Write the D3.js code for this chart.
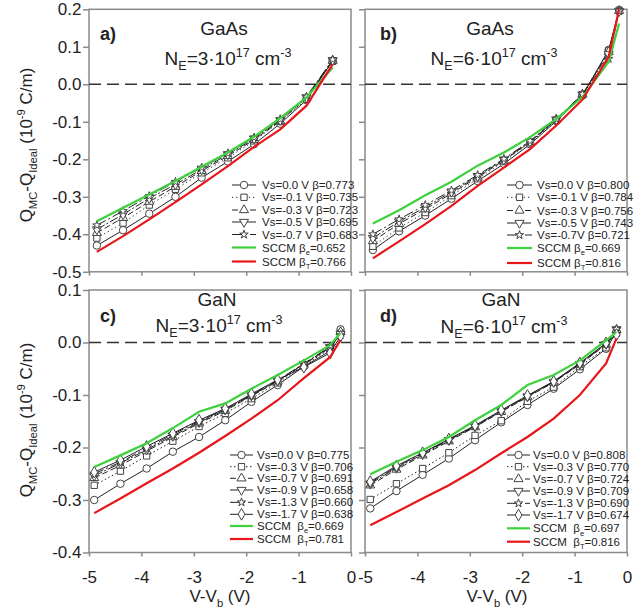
<!DOCTYPE html>
<html>
<head>
<meta charset="utf-8">
<script src="https://cdn.jsdelivr.net/npm/d3@7"></script>
<style>
  body { margin: 0; background: #fff; }
  text { font-family: "Liberation Sans", Arial, sans-serif; fill: #222; }
</style>
</head>
<body>
<div id="chart"></div>
<script>
// x positions (V - Vb)
const xGaAs3 = [-4.85, -4.35, -3.85, -3.35, -2.85, -2.35, -1.85, -1.35, -0.85, -0.35]
const xGaAs6 = [-4.85, -4.35, -3.85, -3.35, -2.85, -2.35, -1.85, -1.35, -0.85, -0.35, -0.15]
const xGaN = [-4.9, -4.4, -3.9, -3.4, -2.9, -2.4, -1.9, -1.4, -0.9, -0.4, -0.2]

// a) GaAs, NE = 3e17
const aVs00 = [-0.430, -0.389, -0.345, -0.300, -0.249, -0.206, -0.160, -0.105, -0.042, 0.063]
const aVs01 = [-0.410, -0.370, -0.322, -0.280, -0.236, -0.196, -0.151, -0.099, -0.040, 0.061]
const aVs03 = [-0.396, -0.356, -0.313, -0.273, -0.231, -0.191, -0.148, -0.098, -0.037, 0.063]
const aVs05 = [-0.387, -0.347, -0.304, -0.267, -0.227, -0.187, -0.145, -0.096, -0.035, 0.064]
const aVs07 = [-0.376, -0.338, -0.298, -0.260, -0.222, -0.184, -0.142, -0.093, -0.033, 0.066]
const aSccmE = [-0.365, -0.329, -0.294, -0.258, -0.220, -0.182, -0.140, -0.090, -0.035, 0.045]
const aSccmT = [-0.447, -0.405, -0.360, -0.314, -0.267, -0.218, -0.167, -0.120, -0.057, 0.054]

// b) GaAs, NE = 6e17
const bVs00 = [-0.442, -0.392, -0.350, -0.305, -0.258, -0.212, -0.160, -0.098, -0.030, 0.092, 0.198]
const bVs01 = [-0.432, -0.383, -0.342, -0.297, -0.252, -0.206, -0.156, -0.096, -0.028, 0.089, 0.197]
const bVs03 = [-0.418, -0.372, -0.333, -0.291, -0.248, -0.203, -0.154, -0.094, -0.027, 0.086, 0.196]
const bVs05 = [-0.410, -0.366, -0.328, -0.287, -0.245, -0.201, -0.153, -0.094, -0.027, 0.080, 0.195]
const bVs07 = [-0.400, -0.360, -0.322, -0.283, -0.242, -0.199, -0.151, -0.093, -0.026, 0.068, 0.195]
const bSccmE = [-0.371, -0.336, -0.296, -0.260, -0.217, -0.182, -0.141, -0.092, -0.034, 0.060, 0.162]
const bSccmT = [-0.464, -0.419, -0.373, -0.324, -0.271, -0.222, -0.173, -0.110, -0.041, 0.073, 0.200]

// c) GaN, NE = 3e17
const cVs00 = [-0.300, -0.269, -0.240, -0.208, -0.180, -0.148, -0.113, -0.081, -0.046, -0.016, 0.025]
const cVs03 = [-0.272, -0.245, -0.216, -0.188, -0.160, -0.135, -0.107, -0.077, -0.044, -0.012, 0.018]
const cVs07 = [-0.258, -0.234, -0.207, -0.180, -0.154, -0.130, -0.102, -0.074, -0.042, -0.010, 0.020]
const cVs09 = [-0.254, -0.230, -0.204, -0.178, -0.152, -0.128, -0.101, -0.073, -0.041, -0.009, 0.016]
const cVs13 = [-0.250, -0.228, -0.201, -0.175, -0.150, -0.127, -0.100, -0.072, -0.040, -0.008, 0.014]
const cVs17 = [-0.247, -0.224, -0.198, -0.173, -0.148, -0.126, -0.098, -0.071, -0.047, -0.020, 0.012]
const cSccmE = [-0.237, -0.215, -0.192, -0.163, -0.132, -0.116, -0.088, -0.062, -0.034, -0.005, 0.018]
const cSccmT = [-0.325, -0.297, -0.268, -0.240, -0.210, -0.178, -0.145, -0.110, -0.068, -0.028, 0.005]

// d) GaN, NE = 6e17
const dVs00 = [-0.316, -0.283, -0.252, -0.221, -0.186, -0.152, -0.119, -0.088, -0.051, -0.012, 0.020]
const dVs03 = [-0.299, -0.269, -0.240, -0.210, -0.177, -0.149, -0.112, -0.085, -0.046, -0.010, 0.018]
const dVs07 = [-0.272, -0.242, -0.215, -0.188, -0.161, -0.132, -0.104, -0.076, -0.042, -0.004, 0.024]
const dVs09 = [-0.269, -0.239, -0.213, -0.186, -0.160, -0.131, -0.103, -0.075, -0.041, -0.003, 0.025]
const dVs13 = [-0.267, -0.237, -0.211, -0.185, -0.159, -0.130, -0.102, -0.075, -0.040, -0.002, 0.026]
const dVs17 = [-0.265, -0.235, -0.210, -0.184, -0.158, -0.129, -0.101, -0.074, -0.039, -0.001, 0.015]
const dSccmE = [-0.251, -0.227, -0.205, -0.180, -0.148, -0.119, -0.081, -0.062, -0.034, 0.004, 0.020]
const dSccmT = [-0.348, -0.323, -0.297, -0.272, -0.243, -0.211, -0.180, -0.145, -0.100, -0.040, 0.008]

// legend texts
const aLabels = ['Vs=0.0 V β=0.773', 'Vs=-0.1 V β=0.735', 'Vs=-0.3 V β=0.723', 'Vs=-0.5 V β=0.695', 'Vs=-0.7 V β=0.683']
const bLabels = ['Vs=0.0 V β=0.800', 'Vs=-0.1 V β=0.784', 'Vs=-0.3 V β=0.756', 'Vs=-0.5 V β=0.743', 'Vs=-0.7V β=0.721']
const cLabels = ['Vs=0.0 V β=0.775', 'Vs=-0.3 V β=0.706', 'Vs=-0.7 V β=0.691', 'Vs=-0.9 V β=0.658', 'Vs=-1.3 V β=0.660', 'Vs=-1.7 V β=0.638']
const dLabels = ['Vs=0.0 V β=0.808', 'Vs=-0.3 V β=0.770', 'Vs=-0.7 V β=0.724', 'Vs=-0.9 V β=0.709', 'Vs=-1.3 V β=0.690', 'Vs=-1.7 V β=0.674']
const aSccm = ['0.652', '0.766']
const bSccm = ['0.669', '0.816']
const cSccm = ['0.669', '0.781']
const dSccm = ['0.697', '0.816']

// tick labels
const xTicks = [-5, -4, -3, -2, -1, 0]
const topTicks = [0.2, 0.1, 0.0, -0.1, -0.2, -0.3, -0.4, -0.5]
const bottomTicks = [0.1, 0.0, -0.1, -0.2, -0.3, -0.4]

const width = 641, height = 613
const pw = 262, ph = 262.5
const axisGray = '#8a8a8a'
const font = '"Liberation Sans", Arial, sans-serif'

const svg = d3.select('#chart').append('svg')
    .attr('width', width)
    .attr('height', height)

// marker shapes, one per series slot
const shapes = [
    { type: d3.symbolCircle, size: 44, rot: 0 },
    { type: d3.symbolSquare, size: 40, rot: 0 },
    { type: d3.symbolTriangle, size: 36, rot: 0 },
    { type: d3.symbolTriangle, size: 36, rot: 180 },
    { type: d3.symbolStar, size: 22, rot: 0 },
    { type: d3.symbolDiamond, size: 40, rot: 0 }
]
const dashesGaAs = [null, '1.2,3', '6,3', '9,2,2,2', '10,3,2,3']
const dashesGaN = [null, '1.5,2.5', '6,3', '9,2,2,2', '10,3,2,3', null]

// text with sub / superscripts: parts = [[str, -1|0|1], ...]
function rich(sel, parts, fs) {
    let cur = 0
    parts.forEach(([s, k]) => {
        const off = k > 0 ? -0.4 * fs : k < 0 ? 0.28 * fs : 0
        sel.append('tspan')
            .attr('dy', off - cur)
            .attr('font-size', k ? fs * 0.66 : fs)
            .text(s)
        cur = off
    })
}

const panels = [
    {
        left: 89, top: 9.3, yDom: [-0.5, 0.2], yTicks: topTicks, xs: xGaAs3, showY: true, showX: false,
        series: [aVs00, aVs01, aVs03, aVs05, aVs07], dashes: dashesGaAs, labels: aLabels,
        sccmE: aSccmE, sccmT: aSccmT, sccm: aSccm, sccmGap: ' ',
        tag: 'a)', tagPos: [100, 40], mat: 'GaAs', matPos: [224, 35], ne: '3', nePos: [228, 65],
        leg: { x0: 232, x1: 256, tx: 262, ys: [185, 197.3, 210, 222, 234.5, 247.5, 261.5] }
    },
    {
        left: 365, top: 9.3, yDom: [-0.5, 0.2], yTicks: topTicks, xs: xGaAs6, showY: false, showX: false,
        series: [bVs00, bVs01, bVs03, bVs05, bVs07], dashes: dashesGaAs, labels: bLabels,
        sccmE: bSccmE, sccmT: bSccmT, sccm: bSccm, sccmGap: ' ',
        tag: 'b)', tagPos: [380, 40], mat: 'GaAs', matPos: [490, 35], ne: '6', nePos: [494, 65],
        leg: { x0: 507, x1: 532, tx: 537, ys: [185, 197.3, 210.5, 223, 235, 248, 263] }
    },
    {
        left: 89, top: 290, yDom: [-0.4, 0.1], yTicks: bottomTicks, xs: xGaN, showY: true, showX: true,
        series: [cVs00, cVs03, cVs07, cVs09, cVs13, cVs17], dashes: dashesGaN, labels: cLabels,
        sccmE: cSccmE, sccmT: cSccmT, sccm: cSccm, sccmGap: '  ',
        tag: 'c)', tagPos: [100, 322], mat: 'GaN', matPos: [217, 306], ne: '3', nePos: [219, 332],
        leg: { x0: 230, x1: 253, tx: 257, ys: [455, 466.7, 478.3, 490, 502.3, 514.3, 526, 539] }
    },
    {
        left: 365, top: 290, yDom: [-0.4, 0.1], yTicks: bottomTicks, xs: xGaN, showY: false, showX: true,
        series: [dVs00, dVs03, dVs07, dVs09, dVs13, dVs17], dashes: dashesGaN, labels: dLabels,
        sccmE: dSccmE, sccmT: dSccmT, sccm: dSccm, sccmGap: '  ',
        tag: 'd)', tagPos: [380, 322], mat: 'GaN', matPos: [501, 306], ne: '6', nePos: [504, 333],
        leg: { x0: 507, x1: 530, tx: 533, ys: [455, 466.7, 479, 491, 503.3, 515, 528.3, 541.7] }
    }
]

panels.forEach(p => {
    const x = d3.scaleLinear().domain([-5, 0]).range([p.left, p.left + pw])
    const y = d3.scaleLinear().domain(p.yDom).range([p.top + ph, p.top])

    // frame
    svg.append('rect')
        .attr('x', p.left).attr('y', p.top)
        .attr('width', pw).attr('height', ph)
        .attr('fill', 'none')
        .attr('stroke', axisGray).attr('stroke-width', 1.5)

    const yAxis = svg.append('g')
        .attr('transform', `translate(${p.left},0)`)
        .call(d3.axisLeft(y).tickValues(p.yTicks).tickSize(6).tickPadding(1.5)
            .tickFormat(p.showY ? (d => d.toFixed(1)) : ''))
    const xAxis = svg.append('g')
        .attr('transform', `translate(0,${p.top + ph})`)
        .call(d3.axisBottom(x).tickValues(xTicks).tickSize(4).tickPadding(14)
            .tickFormat(p.showX ? (d => String(d)) : ''))
    ;[yAxis, xAxis].forEach(g => {
        g.select('.domain').remove()
        g.selectAll('line').attr('stroke', axisGray).attr('stroke-width', 1.5)
        g.selectAll('text').attr('font-size', 17).attr('fill', '#222')
            .attr('font-family', font)
    })

    // zero reference
    svg.append('line')
        .attr('x1', p.left).attr('x2', p.left + pw)
        .attr('y1', y(0)).attr('y2', y(0))
        .attr('stroke', '#333').attr('stroke-width', 1.5)
        .attr('stroke-dasharray', '12,6')

    // Monte Carlo series
    const line = d3.line().x(d => x(d[0])).y(d => y(d[1]))
    p.series.forEach((vals, i) => {
        const pts = vals.map((v, j) => [p.xs[j], v])
        svg.append('path')
            .attr('d', line(pts))
            .attr('fill', 'none')
            .attr('stroke', '#222').attr('stroke-width', 1)
            .attr('stroke-dasharray', p.dashes[i])
        const sh = shapes[i]
        svg.append('g').selectAll('path').data(pts).enter().append('path')
            .attr('d', d3.symbol().type(sh.type).size(sh.size))
            .attr('transform', d => `translate(${x(d[0])},${y(d[1])}) rotate(${sh.rot})`)
            .attr('fill', '#fff').attr('stroke', '#444').attr('stroke-width', 1)
    })

    // SCCM curves
    const sccmColors = ['#3dd13d', '#e8161b']
    ;[p.sccmE, p.sccmT].forEach((vals, i) => {
        svg.append('path')
            .attr('d', line(vals.map((v, j) => [p.xs[j], v])))
            .attr('fill', 'none')
            .attr('stroke', sccmColors[i]).attr('stroke-width', 2.2)
    })

    // legend
    const L = p.leg
    const xm = (L.x0 + L.x1) / 2
    p.labels.forEach((lab, i) => {
        const yy = L.ys[i]
        svg.append('line')
            .attr('x1', L.x0).attr('x2', L.x1).attr('y1', yy).attr('y2', yy)
            .attr('stroke', '#222').attr('stroke-width', 1)
            .attr('stroke-dasharray', p.dashes[i])
        const sh = shapes[i]
        svg.append('path')
            .attr('d', d3.symbol().type(sh.type).size(sh.size)())
            .attr('transform', `translate(${xm},${yy}) rotate(${sh.rot})`)
            .attr('fill', '#fff').attr('stroke', '#444').attr('stroke-width', 1)
        svg.append('text')
            .attr('x', L.tx).attr('y', yy + 4)
            .attr('font-size', 11.5)
            .text(lab)
    })
    ;['e', 'T'].forEach((sub, i) => {
        const yy = L.ys[p.labels.length + i]
        svg.append('line')
            .attr('x1', L.x0).attr('x2', L.x1).attr('y1', yy).attr('y2', yy)
            .attr('stroke', sccmColors[i]).attr('stroke-width', 2.2)
        const t = svg.append('text')
            .attr('x', L.tx).attr('y', yy + 4)
            .style('white-space', 'pre')
        rich(t, [['SCCM' + p.sccmGap + 'β', 0], [sub, -1], ['=' + p.sccm[i], 0]], 11.5)
    })

    // panel annotations
    svg.append('text')
        .attr('x', p.tagPos[0]).attr('y', p.tagPos[1])
        .attr('font-size', 18).attr('font-weight', 'bold')
        .text(p.tag)
    svg.append('text')
        .attr('x', p.matPos[0]).attr('y', p.matPos[1])
        .attr('text-anchor', 'middle').attr('font-size', 19)
        .text(p.mat)
    const ne = svg.append('text')
        .attr('x', p.nePos[0]).attr('y', p.nePos[1])
        .attr('text-anchor', 'middle')
    rich(ne, [['N', 0], ['E', -1], ['=' + p.ne + '·10', 0], ['17', 1], [' cm', 0], ['-3', 1]], 19)
})

// axis titles
;[145, 420].forEach(cy => {
    const t = svg.append('text')
        .attr('transform', `translate(32,${cy}) rotate(-90)`)
        .attr('text-anchor', 'middle')
    rich(t, [['Q', 0], ['MC', -1], ['-Q', 0], ['Ideal', -1], [' (10', 0], ['-9', 1], [' C/m)', 0]], 17)
})
;[220, 497].forEach(cx => {
    const t = svg.append('text')
        .attr('x', cx).attr('y', 602)
        .attr('text-anchor', 'middle')
    rich(t, [['V-V', 0], ['b', -1], [' (V)', 0]], 17)
})
</script>
</body>
</html>
